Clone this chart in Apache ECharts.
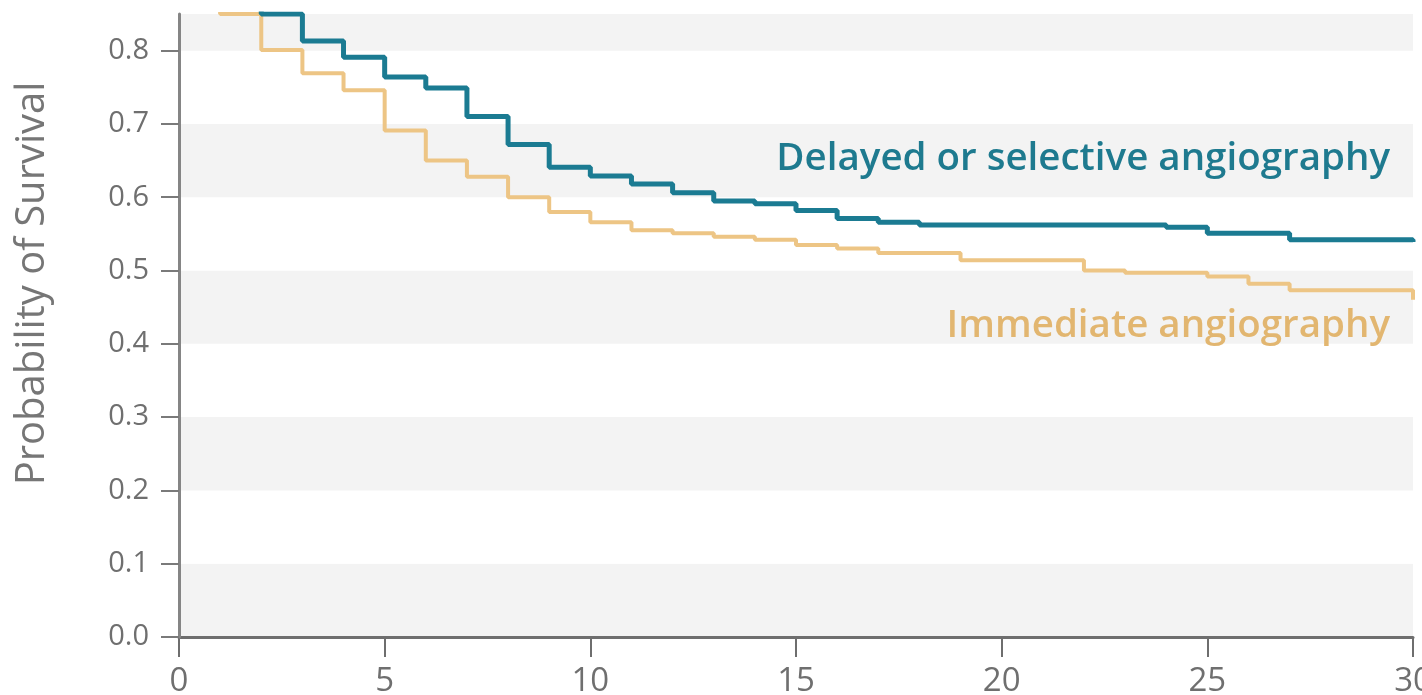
<!DOCTYPE html>
<html>
<head>
<meta charset="utf-8">
<style>
  html, body { margin: 0; padding: 0; background: #ffffff; }
  #chart { width: 1422px; height: 695px; }
</style>
<script src="https://cdn.jsdelivr.net/npm/echarts@6/dist/echarts.min.js"></script>
</head>
<body>
<div id="chart"></div>
<script>
// Delayed or selective angiography (step drops: time in days, survival after the drop)
const delayedTimes  = [0, 2, 3, 4, 5, 6, 7, 8, 9, 10, 11, 12, 13, 14, 15, 16, 17, 18, 24, 25, 27, 30];
const delayedValues = [0.92, 0.85, 0.813, 0.791, 0.764, 0.749, 0.710, 0.672, 0.641, 0.629, 0.618, 0.606, 0.595, 0.591, 0.582, 0.571, 0.566, 0.562, 0.559, 0.551, 0.542, 0.539];

// Immediate angiography
const immediateTimes  = [0, 1, 2, 3, 4, 5, 6, 7, 8, 9, 10, 11, 12, 13, 14, 15, 16, 17, 19, 22, 23, 25, 26, 27, 30];
const immediateValues = [0.95, 0.85, 0.801, 0.769, 0.746, 0.691, 0.650, 0.628, 0.600, 0.580, 0.566, 0.555, 0.551, 0.546, 0.542, 0.535, 0.530, 0.524, 0.514, 0.500, 0.497, 0.492, 0.482, 0.473, 0.460];

const yTickValues = [0, 0.1, 0.2, 0.3, 0.4, 0.5, 0.6, 0.7, 0.8];
const xTickValues = [0, 5, 10, 15, 20, 25, 30];

const seriesNames = ['Delayed or selective angiography', 'Immediate angiography'];
const blue = '#1b7b92';
const orange = '#edc585';

function pairs(xs, ys) { return xs.map((x, i) => [x, ys[i]]); }

const chart = echarts.init(document.getElementById('chart'));
chart.setOption({
  animation: false,
  backgroundColor: '#ffffff',
  grid: { left: 179, right: 9, top: 14, bottom: 58, containLabel: false, outerBoundsMode: 'none' },
  xAxis: {
    type: 'value', min: 0, max: 30, interval: 5,
    axisLine: { show: true, onZero: false, lineStyle: { color: '#6e6e6e', width: 3 } },
    axisTick: { show: true, length: 20, customValues: xTickValues, lineStyle: { color: '#6e6e6e', width: 2 } },
    axisLabel: { margin: 28, color: '#6f6f6f', fontSize: 33, fontFamily: "'Liberation Sans Narrow', 'Open Sans', sans-serif",
                 customValues: xTickValues, formatter: v => String(v), hideOverlap: false },
    splitLine: { show: false }
  },
  yAxis: [
    {
      type: 'value', min: 0, max: 0.85, interval: 0.1,
      name: 'Probability of Survival', nameLocation: 'middle', nameGap: 126,
      nameTextStyle: { color: '#767676', fontSize: 40, fontFamily: "'Open Sans', sans-serif", padding: [0, 0, 0, 84] },
      axisLine: { show: true, lineStyle: { color: '#858585', width: 3 } },
      axisTick: { show: true, length: 18, customValues: yTickValues, lineStyle: { color: '#7a7a7a', width: 2 } },
      axisLabel: { margin: 30, color: '#6f6f6f', fontSize: 29, fontFamily: "'Open Sans', sans-serif",
                   customValues: yTickValues, formatter: v => v.toFixed(1) },
      splitLine: { show: false },
      splitArea: { show: false },
      z: 5
    },
    {
      type: 'value', min: 0, max: 0.85, interval: 0.1,
      axisLine: { show: false }, axisTick: { show: false }, axisLabel: { show: false },
      splitLine: { show: false },
      splitArea: { show: true, areaStyle: { color: ['#f3f3f3', '#ffffff'] } },
      z: 0
    }
  ],
  series: [
    {
      name: seriesNames[1], type: 'line', step: 'end', symbol: 'none', clip: true,
      data: pairs(immediateTimes, immediateValues),
      lineStyle: { color: orange, width: 4 }, z: 3
    },
    {
      name: seriesNames[0], type: 'line', step: 'end', symbol: 'none', clip: true,
      data: pairs(delayedTimes, delayedValues),
      lineStyle: { color: blue, width: 5 }, z: 4
    }
  ],
  graphic: [
    {
      type: 'text', right: 32, top: 140, z: 10,
      style: { text: seriesNames[0], fill: '#1e7a8f', font: "600 38.5px 'Open Sans', sans-serif" }
    },
    {
      type: 'text', right: 32, top: 307, z: 10,
      style: { text: seriesNames[1], fill: '#e2b670', font: "600 38.5px 'Open Sans', sans-serif" }
    }
  ]
});
</script>
</body>
</html>
